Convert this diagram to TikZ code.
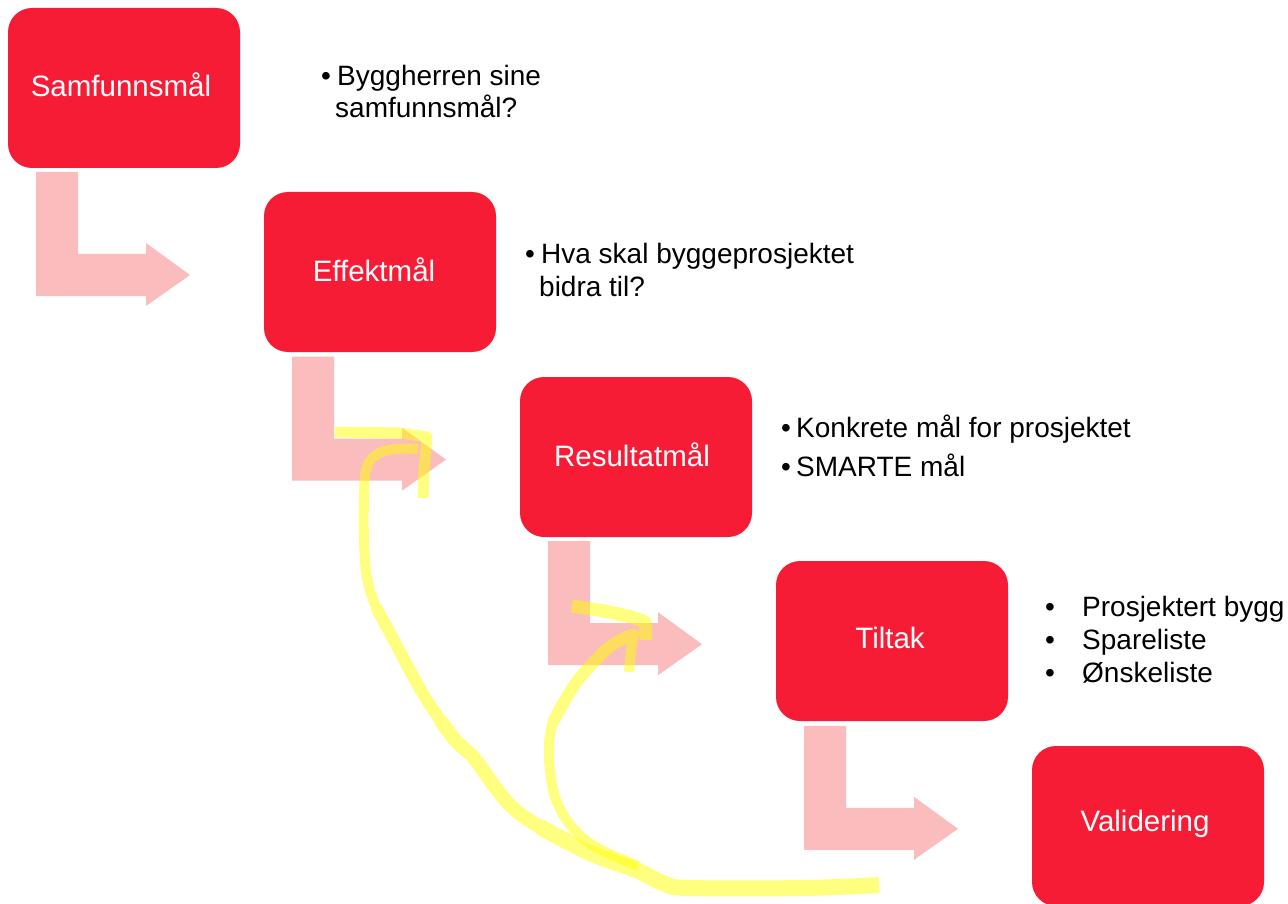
\documentclass[tikz,border=0pt]{standalone}
\usepackage{fontspec}
\setmainfont{Liberation Sans}
\definecolor{boxred}{HTML}{F71C36}
\definecolor{arrowpink}{HTML}{FABCBC}
\definecolor{marker}{HTML}{FFFF00}
\begin{document}
\begin{tikzpicture}[x=1pt,y=-1pt,
  goal/.style={fill=boxred, rounded corners=24pt, minimum width=232pt,
    minimum height=160pt, inner sep=0pt},
  goaltext/.style={text=white, inner sep=0pt, font=\fontsize{29.5}{32}\selectfont},
  note/.style={anchor=base west, inner sep=0pt, font=\fontsize{28}{32}\selectfont},
  mk/.style={draw=marker, line width=#1, line cap=butt, line join=round},
]
\useasboundingbox (0,0) rectangle (1288,904);
\clip (0,0) rectangle (1288,904);

% bent arrows between the steps
\foreach \i in {0,...,3}
  \fill[arrowpink, shift={(256*\i,184.6*\i)}]
    (36,172) -- (78,172) -- (78,254) -- (146,254) -- (146,243) -- (190,275)
    -- (146,306) -- (146,296) -- (36,296) -- cycle;

% goal boxes
\node[goal] (samf) at (124,88)  {};
\node[goal] (eff)  at (380,272) {};
\node[goal] (res)  at (636,457) {};
\node[goal] (tilt) at (892,641) {};
\node[goal] (val)  at (1148,826) {};

\node[goaltext] (samft) at (121,85)  {Samfunnsmål};
\node[goaltext] (efft)  at (374,270) {Effektmål};
\node[goaltext] (rest)  at (632,455) {Resultatmål};
\node[goaltext] (tiltt) at (890,638) {Tiltak};
\node[goaltext] (valt)  at (1145,824) {Validering};

% notes beside the boxes
\node[note] (b1)  at (321,86)  {•};
\node[note] (n1a) at (337,86)  {Byggherren sine};
\node[note] (n1b) at (335,118) {samfunnsmål?};

\node[note] (b2)  at (525,264) {•};
\node[note] (n2a) at (541,264) {Hva skal byggeprosjektet};
\node[note] (n2b) at (539,296) {bidra til?};

\node[note] (b3a) at (781,437) {•};
\node[note] (n3a) at (796,437) {Konkrete mål for prosjektet};
\node[note] (b3b) at (781,476) {•};
\node[note] (n3b) at (796,476) {SMARTE mål};

\node[note] (b4a) at (1045,616) {•};
\node[note] (n4a) at (1082,616) {Prosjektert bygg};
\node[note] (b4b) at (1045,649) {•};
\node[note] (n4b) at (1082,649) {Spareliste};
\node[note] (b4c) at (1045,682) {•};
\node[note] (n4c) at (1082,682) {Ønskeliste};

% highlighter strokes
\begin{scope}[transparency group, opacity=0.5]
  \draw[mk=10pt] plot[smooth, tension=0.6] coordinates {
    (418,449) (395,449) (376,455) (366,470) (364,500) (364,540) (367,578)
    (376,607) (390,633) (419,687) (440,720) (456,741) (474,758) (492,783)
    (512,807) (540,827) (590,853) (636,870) (665,884) (690,888) (804,888) (879,885)};
  \draw[mk=12pt] plot[smooth, tension=0.6] coordinates {
    (376,607) (390,633) (419,687) (440,720) (456,741) (474,758) (492,783)
    (512,807) (540,827) (590,853) (636,870) (665,884) (690,888) (804,888) (879,885)};
  \draw[mk=14pt] plot[smooth, tension=0.6] coordinates {
    (440,720) (456,741) (474,758) (492,783)
    (512,807) (540,827) (590,853) (636,870) (665,884) (690,888) (804,888) (879,885)};
  \draw[mk=16pt] plot[smooth, tension=0.6] coordinates {
    (540,827) (590,853) (636,870) (665,884) (690,888) (804,888) (879,885)};
\end{scope}
\begin{scope}[transparency group, opacity=0.5]
  \draw[mk=11pt] (335,432) -- (400,433) -- (427,437) -- (424,470) -- (423,498);
\end{scope}
\begin{scope}[transparency group, opacity=0.5]
  \draw[mk=10pt] plot[smooth, tension=0.6] coordinates {
    (638,866) (612,855) (588,842) (568,822) (555,797) (550,770) (549,745)
    (553,722) (565,700) (578,680) (594,662) (612,645) (634,634)}
    -- (631,650) -- (629,672);
  \draw[mk=12pt] plot[smooth, tension=0.6] coordinates {
    (553,722) (565,700) (578,680) (594,662) (612,645) (634,634)};
\end{scope}
\begin{scope}[transparency group, opacity=0.5]
  \draw[mk=13pt] (572,606) -- (605,611) -- (632,617) -- (645,622) -- (646,640);
\end{scope}
\end{tikzpicture}
\end{document}
